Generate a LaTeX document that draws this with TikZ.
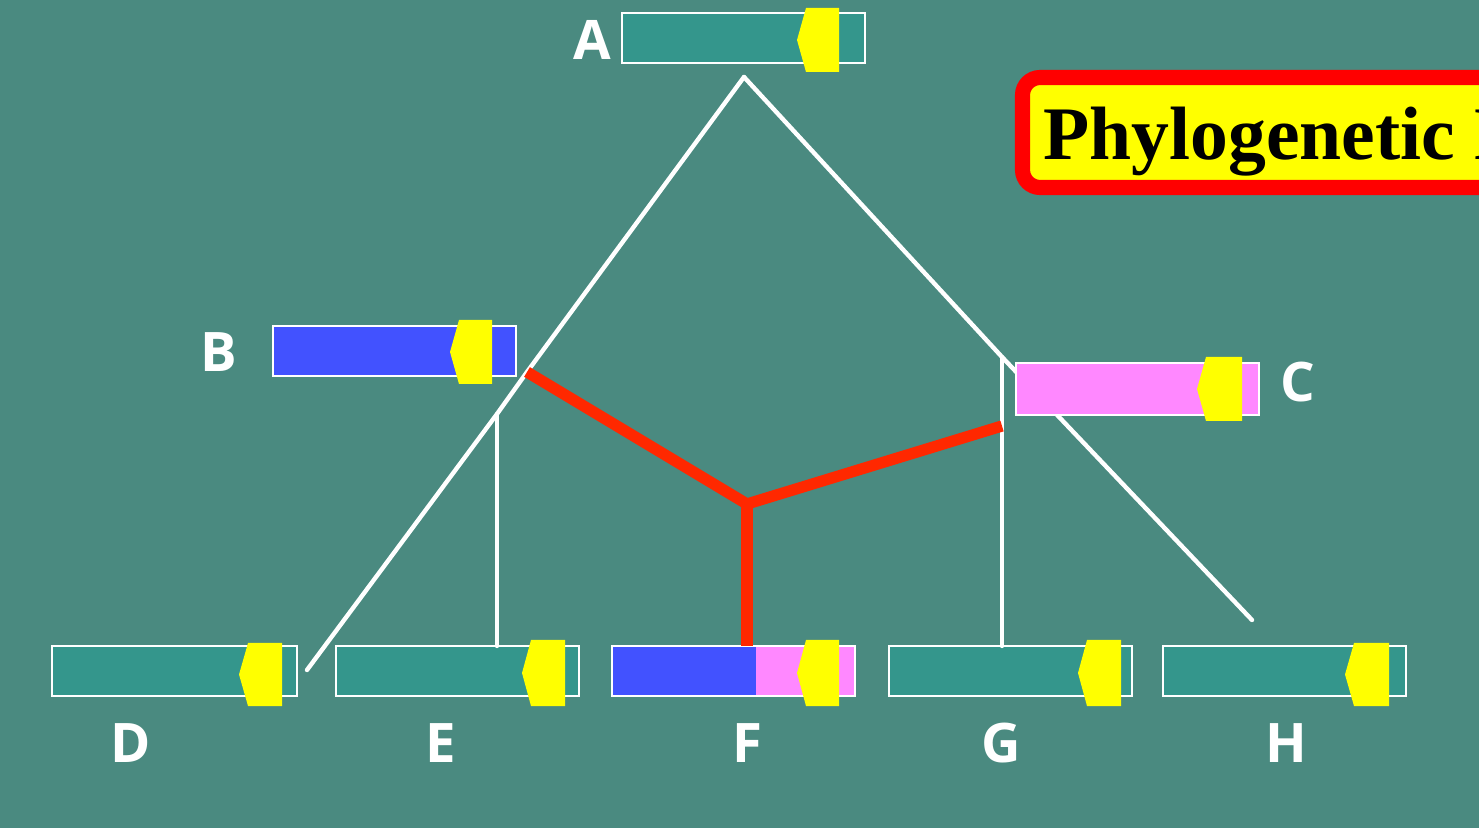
\documentclass[tikz,border=0pt]{standalone}
\usepackage{fontspec}
\newfontfamily\lblfont{Open Sans}
\newfontfamily\ttlfont{Liberation Serif}
\definecolor{bgc}{RGB}{74,138,128}
\definecolor{tealb}{RGB}{52,150,140}
\definecolor{blueb}{RGB}{66,82,255}
\definecolor{pinkb}{RGB}{255,136,255}
\definecolor{tagy}{RGB}{255,255,0}
\definecolor{redl}{RGB}{255,40,0}
\definecolor{redt}{RGB}{255,0,0}
\newcommand{\ptag}[4]{%
  \fill[tagy] ({#1+9},#3) -- (#2,#3) -- (#2,#4) -- ({#1+9},#4) -- (#1,{(#3+#4)/2}) -- cycle;}
\tikzset{
  bar/.style={draw=white, line width=0.6pt, minimum width=2.43cm, minimum height=0.5cm,
    inner sep=0pt, outer sep=0pt, anchor=north west},
  lbl/.style={text=white, font=\lblfont\bfseries\fontsize{15.5}{18}\selectfont, inner sep=0pt},
  wline/.style={draw=white, line width=1.25pt, line cap=round},
  rline/.style={draw=redl, line width=3.2pt, line join=round}
}
\begin{document}
\begin{tikzpicture}[x=0.01cm, y=-0.01cm]
\useasboundingbox (0,0) rectangle (1479,828);
\clip (0,0) rectangle (1479,828);
\fill[bgc] (0,0) rectangle (1479,828);
% junction coordinates
\coordinate (apex) at (744,77);
\coordinate (jB) at (527,372);
\coordinate (jE) at (497,414);
\coordinate (endD) at (307,670);
\coordinate (jG) at (1002,357);
\coordinate (endH) at (1252,620);
\coordinate (jF) at (747,504);
\coordinate (rC) at (1002,426);
% bars
\node[bar, fill=tealb] (barA) at (622,13) {};
\node[bar, fill=blueb] (barB) at (273,326) {};
\node[bar, fill=pinkb, minimum height=0.52cm] (barC) at (1016,363) {};
\node[bar, fill=tealb, minimum width=2.45cm] (barD) at (52,646) {};
\node[bar, fill=tealb] (barE) at (336,646) {};
\node[bar, fill=pinkb, path picture={\fill[blueb] (path picture bounding box.south west) rectangle ([xshift=1.44cm]path picture bounding box.north west);}] (barF) at (612,646) {};
\node[bar, fill=tealb] (barG) at (889,646) {};
\node[bar, fill=tealb] (barH) at (1163,646) {};
% white tree lines
\draw[wline] (apex) -- (jB) -- (jE) -- (endD);
\draw[wline] (jE) -- (jE |- barE.north);
\draw[wline] (apex) -- (jG) -- (endH);
\draw[wline] (jG) -- (jG |- barG.north);
% red network lines
\draw[rline] (jB) -- (jF) -- (rC);
\draw[rline] (jF) -- (jF |- barF.north);
% redraw bars on top of lines
\node[bar, fill=tealb] at (622,13) {};
\node[bar, fill=blueb] at (273,326) {};
\node[bar, fill=pinkb, minimum height=0.52cm] at (1016,363) {};
% tags
\ptag{797}{839}{8}{72}
\ptag{450}{492}{320}{384}
\ptag{1197}{1242}{357}{421}
\ptag{239}{282}{643}{706}
\ptag{522}{565}{640}{706}
\ptag{797}{839}{640}{706}
\ptag{1078}{1121}{640}{706}
\ptag{1345}{1389}{643}{706}
% labels
\node[lbl] (lA) at (592,40) {A};
\node[lbl] (lB) at (219,352) {B};
\node[lbl] (lC) at (1298,382) {C};
\node[lbl] (lD) at (131,743) {D};
\node[lbl] (lE) at (441,743) {E};
\node[lbl] (lF) at (747,743) {F};
\node[lbl] (lG) at (1001,743) {G};
\node[lbl] (lH) at (1286,743) {H};
% title
\draw[redt, fill=tagy, line width=4.3pt, rounded corners=5pt] (1022.5,77.5) rectangle (1540,187.5);
\node[anchor=base west, inner sep=0pt, font=\ttlfont\bfseries\fontsize{21.5}{24}\selectfont] (title) at (1043,160) {Phylogenetic N};
\end{tikzpicture}
\end{document}
